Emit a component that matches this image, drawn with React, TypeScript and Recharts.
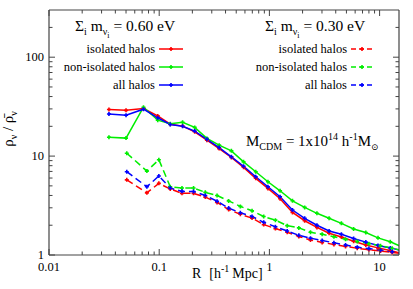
import { LineChart, Line, XAxis, YAxis } from "recharts";

// R grid of the solid curves (0.60 eV) and dashed curves (0.30 eV), h^-1 Mpc
const rSolid = [0.035, 0.05, 0.072, 0.097, 0.126, 0.163, 0.21, 0.271, 0.35, 0.452, 0.583, 0.752, 0.97, 1.25, 1.62, 2.09, 2.7, 3.48, 4.5, 5.81, 7.5, 9.67, 12.5, 16.1];
const rDashed = [0.0508, 0.0773, 0.0993, 0.126, 0.161, 0.205, 0.262, 0.335, 0.427, 0.545, 0.696, 0.888, 1.134, 1.45, 1.85, 2.36, 3.01, 3.85, 4.91, 6.27, 8.0, 10.2, 13.0, 16.6];

// 0.60 eV
const isoSolid = [29.6, 29.0, 30.3, 25.5, 21.0, 20.1, 17.6, 14.5, 11.9, 9.7, 7.7, 5.96, 4.71, 3.7, 2.69, 2.22, 1.9, 1.66, 1.52, 1.38, 1.26, 1.18, 1.11, 1.03];
const nonIsoSolid = [15.5, 15.2, 31.2, 23.1, 21.2, 22.0, 19.5, 15.1, 12.9, 11.3, 8.75, 6.94, 5.5, 4.46, 3.53, 3.03, 2.64, 2.35, 2.09, 1.83, 1.69, 1.49, 1.36, 1.2];
const allSolid = [26.6, 25.9, 29.8, 24.4, 20.9, 20.0, 17.9, 14.8, 12.2, 9.84, 7.9, 6.18, 4.9, 3.88, 2.85, 2.35, 2.0, 1.75, 1.62, 1.47, 1.35, 1.25, 1.18, 1.1];

// 0.30 eV
const isoDashed = [5.75, 4.25, 5.3, 4.65, 4.2, 4.2, 3.85, 3.4, 2.88, 2.58, 2.36, 2.03, 1.85, 1.7, 1.54, 1.42, 1.34, 1.28, 1.22, 1.17, 1.13, 1.1, 1.06, 1.03];
const nonIsoDashed = [10.7, 7.05, 9.2, 4.9, 4.75, 4.75, 4.3, 4.0, 3.52, 3.1, 2.8, 2.45, 2.25, 1.98, 1.88, 1.7, 1.62, 1.53, 1.44, 1.37, 1.3, 1.24, 1.17, 1.1];
const allDashed = [6.95, 4.9, 6.3, 4.75, 4.4, 4.38, 4.0, 3.5, 2.98, 2.67, 2.45, 2.14, 1.93, 1.75, 1.58, 1.48, 1.4, 1.33, 1.26, 1.2, 1.16, 1.12, 1.08, 1.04];

const xTicks = [0.01, 0.02, 0.03, 0.04, 0.05, 0.06, 0.07, 0.08, 0.09, 0.1, 0.2, 0.3, 0.4, 0.5, 0.6, 0.7, 0.8, 0.9, 1, 2, 3, 4, 5, 6, 7, 8, 9, 10];
const xLabels = [0.01, 0.1, 1, 10];
const yTicks = [1, 2, 3, 4, 5, 6, 7, 8, 9, 10, 20, 30, 40, 50, 60, 70, 80, 90, 100, 200];
const yLabels = [1, 10, 100];

const RED = "#ff0000";
const GREEN = "#00ee00";
const BLUE = "#0000ff";
const AXIS = "#444";
const FONT = "'Liberation Serif', 'DejaVu Serif', serif";
const DASH = "7 4";

const rows = (r: number[], v: number[]) => r.map((x, i) => ({ r: x, v: v[i] }));

const Dot = ({ cx, cy, stroke }: any) => (
  <path d={`M${cx - 2},${cy}h4M${cx},${cy - 2}v4`} stroke={stroke} strokeWidth={1.6} />
);

const BottomTick = ({ x, y, payload }: any) => {
  const major = xLabels.includes(payload.value);
  return (
    <g>
      <line x1={x} x2={x} y1={y} y2={y - (major ? 6 : 3.5)} stroke={AXIS} />
      {major && (
        <text x={x} y={y + 16} textAnchor="middle" fontSize={12.5} fontFamily={FONT} fill="#000">
          {payload.value}
        </text>
      )}
    </g>
  );
};

const TopTick = ({ x, y, payload }: any) => {
  const major = xLabels.includes(payload.value);
  return <line x1={x} x2={x} y1={y} y2={y + (major ? 6 : 3.5)} stroke={AXIS} />;
};

const LeftTick = ({ x, y, payload }: any) => {
  const major = yLabels.includes(payload.value);
  return (
    <g>
      <line x1={x} x2={x + (major ? 6 : 3.5)} y1={y} y2={y} stroke={AXIS} />
      {major && (
        <text x={x - 5} y={y + 3.5} textAnchor="end" fontSize={12.5} fontFamily={FONT} fill="#000">
          {payload.value}
        </text>
      )}
    </g>
  );
};

const RightTick = ({ x, y, payload }: any) => {
  const major = yLabels.includes(payload.value);
  return <line x1={x} x2={x - (major ? 6 : 3.5)} y1={y} y2={y} stroke={AXIS} />;
};

const series = [
  { name: "iso60", r: rSolid, v: isoSolid, color: RED, dash: undefined },
  { name: "non60", r: rSolid, v: nonIsoSolid, color: GREEN, dash: undefined },
  { name: "all60", r: rSolid, v: allSolid, color: BLUE, dash: undefined },
  { name: "iso30", r: rDashed, v: isoDashed, color: RED, dash: DASH },
  { name: "non30", r: rDashed, v: nonIsoDashed, color: GREEN, dash: DASH },
  { name: "all30", r: rDashed, v: allDashed, color: BLUE, dash: DASH },
];

const legendNames = ["isolated halos", "non-isolated halos", "all halos"];
const legendColors = [RED, GREEN, BLUE];

const Title = ({ x, y, mass }: { x: number; y: number; mass: string }) => (
  <text x={x} y={y} fontSize={15.5} fontFamily={FONT} fill="#000">
    <tspan>Σ</tspan>
    <tspan dy={4} fontSize={10}>i</tspan>
    <tspan dy={-4}> m</tspan>
    <tspan dy={4} fontSize={10}>ν</tspan>
    <tspan dy={3} fontSize={8}>i</tspan>
    <tspan dy={-7}>{` = ${mass} eV`}</tspan>
  </text>
);

const Legend = ({ textX, lineX1, lineX2, dash }: any) => (
  <g>
    {legendNames.map((n, i) => {
      const y = 49 + i * 18;
      return (
        <g key={n}>
          <text x={textX} y={y + 4} textAnchor="end" fontSize={12.5} fontFamily={FONT} fill="#000">
            {n}
          </text>
          <line x1={lineX1} x2={lineX2} y1={y} y2={y} stroke={legendColors[i]} strokeWidth={1.5} strokeDasharray={dash} />
          <path d={`M${(lineX1 + lineX2) / 2 - 2},${y}h4M${(lineX1 + lineX2) / 2},${y - 2}v4`} stroke={legendColors[i]} strokeWidth={1.6} />
        </g>
      );
    })}
  </g>
);

export default function App() {
  return (
    <div style={{ position: "absolute", left: 0, top: 0, width: 413, height: 289, background: "#fff" }}>
      <LineChart width={413} height={289} margin={{ top: 9, right: 0, bottom: 0, left: 0 }}>
        <XAxis
          dataKey="r"
          type="number"
          scale="log"
          domain={[0.01, 15]}
          allowDataOverflow
          ticks={xTicks}
          interval={0}
          height={34}
          tickSize={0}
          tickMargin={0}
          tick={<BottomTick />}
          axisLine={{ stroke: AXIS, strokeWidth: 1.2 }}
        />
        <XAxis
          xAxisId="t"
          orientation="top"
          dataKey="r"
          type="number"
          scale="log"
          domain={[0.01, 15]}
          allowDataOverflow
          ticks={xTicks}
          interval={0}
          height={1}
          tickSize={0}
          tickMargin={0}
          tick={<TopTick />}
          axisLine={{ stroke: AXIS, strokeWidth: 1.2 }}
        />
        <YAxis
          type="number"
          scale="log"
          domain={[1, 300]}
          allowDataOverflow
          ticks={yTicks}
          interval={0}
          width={49}
          tickSize={0}
          tickMargin={0}
          tick={<LeftTick />}
          axisLine={{ stroke: AXIS, strokeWidth: 1.2 }}
        />
        <YAxis
          yAxisId="r"
          orientation="right"
          type="number"
          scale="log"
          domain={[1, 300]}
          allowDataOverflow
          ticks={yTicks}
          interval={0}
          width={14}
          tickSize={0}
          tickMargin={0}
          tick={<RightTick />}
          axisLine={{ stroke: AXIS, strokeWidth: 1.2 }}
        />
        {series.map((s) => (
          <Line
            key={s.name}
            data={rows(s.r, s.v)}
            dataKey="v"
            type="linear"
            stroke={s.color}
            strokeWidth={1.5}
            strokeDasharray={s.dash}
            dot={<Dot stroke={s.color} />}
            activeDot={false}
            isAnimationActive={false}
          />
        ))}
      </LineChart>
      <svg width={413} height={289} style={{ position: "absolute", left: 0, top: 0, pointerEvents: "none" }}>
        <Title x={75} y={31} mass="0.60" />
        <Title x={265} y={31} mass="0.30" />
        <Legend textX={155} lineX1={159} lineX2={183} />
        <Legend textX={347} lineX1={351} lineX2={373} dash="5 3" />
        <text x={246} y={146} fontSize={15} fontFamily={FONT} fill="#000">
          <tspan>M</tspan>
          <tspan dy={4} fontSize={10}>CDM</tspan>
          <tspan dy={-4}> = 1x10</tspan>
          <tspan dy={-6} fontSize={10}>14</tspan>
          <tspan dy={6}> h</tspan>
          <tspan dy={-6} fontSize={10}>-1</tspan>
          <tspan dy={6}>M</tspan>
          <tspan dy={4} fontSize={9}>⊙</tspan>
        </text>
        <text x={192} y={278} fontSize={14} fontFamily={FONT} fill="#000">
          <tspan>R</tspan>
          <tspan dx={8}>[h</tspan>
          <tspan dy={-6} fontSize={10}>-1</tspan>
          <tspan dy={6} dx={3}>Mpc]</tspan>
        </text>
        <text transform="translate(13,129) rotate(-90)" textAnchor="middle" fontSize={15} fontFamily={FONT} fill="#000">
          <tspan>ρ</tspan>
          <tspan dy={4} fontSize={10}>ν</tspan>
          <tspan dy={-4}> / ρ̄</tspan>
          <tspan dy={4} fontSize={10}>ν</tspan>
        </text>
      </svg>
    </div>
  );
}
